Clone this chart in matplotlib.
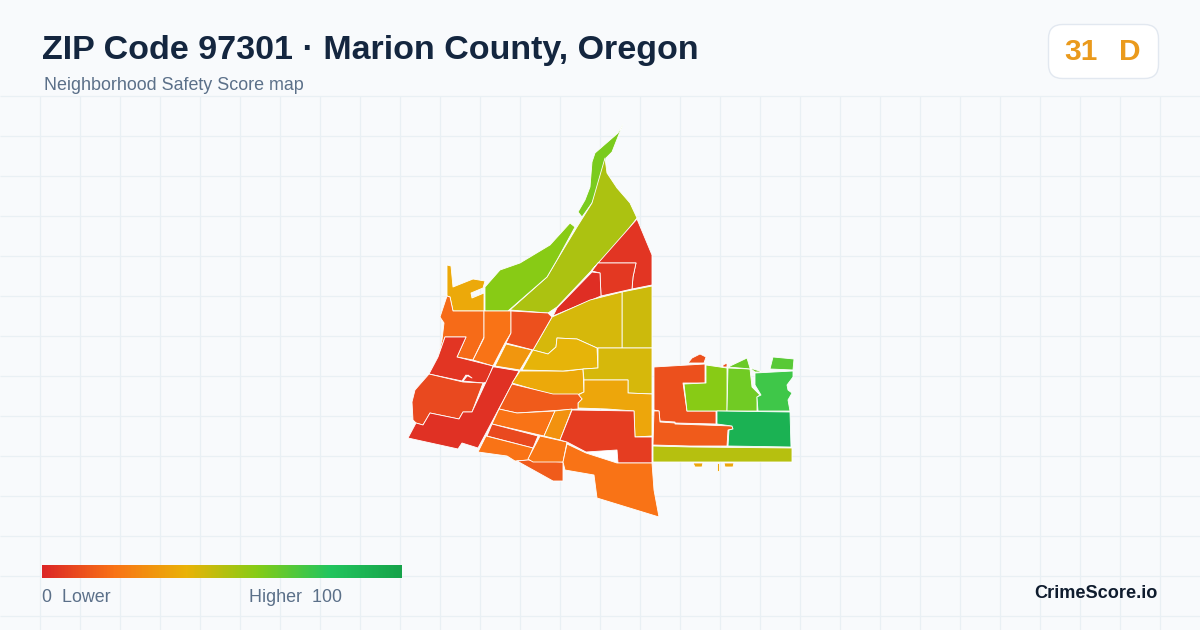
import matplotlib
matplotlib.use("Agg")
import matplotlib.pyplot as plt
import numpy as np
from matplotlib.collections import PolyCollection
from matplotlib.colors import LinearSegmentedColormap
from matplotlib.patches import FancyBboxPatch

plt.rcParams["font.family"] = ["Liberation Sans", "DejaVu Sans"]

scores = [62, 52, 59, 37, 4, 5, 2, 46, 44, 18, 20, 11, 31, 4, 9, 3, 37, 41, 44, 36,
          14, 20, 30, 9, 20, 14, 21, 6, 20, 11, 14, 11, 11, 59, 64, 65, 74, 69, 91, 50,
          36, 36, 36]

# outlines in picture coordinates
outlines = [
    [(623, 124), (618, 133), (595, 153), (592, 162), (590, 187), (585, 200), (578, 212), (582, 217), (592, 203), (605, 170), (606, 158), (612, 152)],
    [(605, 158), (607, 173), (617, 188), (630, 203), (637, 218), (620, 240), (592, 270), (557, 307), (548, 313), (510, 310), (547, 277), (557, 260), (577, 227), (592, 203)],
    [(485, 287), (500, 270), (520, 263), (550, 245), (570, 223), (575, 227), (557, 260), (547, 277), (508, 311), (485, 311)],
    [(447, 265), (451, 266), (453, 287), (473, 279), (485, 281), (483, 288), (471, 293), (472, 298), (484, 293), (484, 311), (453, 311), (450, 297), (447, 296)],
    [(637, 219), (652, 255), (652, 285), (632, 289), (633, 277), (636, 263), (598, 263), (592, 270)],
    [(598, 263), (636, 263), (633, 277), (632, 289), (601, 296), (600, 273), (592, 271)],
    [(592, 272), (600, 273), (601, 296), (553, 316), (557, 308)],
    [(622, 292), (652, 286), (652, 348), (622, 348)],
    [(552, 317), (590, 300), (622, 292), (622, 348), (597, 348), (577, 339), (557, 338), (556, 347), (548, 354), (533, 350)],
    [(447, 296), (450, 297), (453, 311), (484, 311), (484, 337), (473, 360), (457, 357), (466, 337), (445, 337), (438, 357), (442, 340), (444, 323), (440, 317), (444, 305)],
    [(484, 311), (511, 311), (511, 333), (505, 343), (493, 366), (473, 360), (484, 338)],
    [(511, 311), (548, 313), (552, 317), (533, 350), (506, 343), (511, 333)],
    [(506, 344), (532, 350), (520, 370), (495, 366)],
    [(445, 337), (466, 337), (457, 357), (493, 366), (487, 382), (483, 383), (463, 381), (468, 375), (472, 378), (466, 375), (462, 381), (429, 374), (438, 357)],
    [(429, 374), (463, 382), (483, 383), (472, 412), (463, 412), (459, 419), (430, 413), (423, 425), (416, 423), (413, 420), (412, 402), (415, 390), (422, 382)],
    [(495, 367), (519, 371), (478, 448), (462, 443), (458, 449), (408, 438), (416, 423), (423, 425), (430, 413), (459, 419), (463, 412), (472, 412), (493, 367)],
    [(520, 371), (567, 371), (583, 369), (584, 392), (577, 395), (553, 395), (512, 383)],
    [(533, 350), (548, 354), (556, 347), (557, 338), (577, 339), (597, 348), (598, 368), (583, 369), (563, 371), (522, 370)],
    [(598, 348), (652, 348), (652, 394), (628, 393), (628, 380), (584, 380), (583, 369), (598, 368)],
    [(584, 380), (628, 380), (628, 393), (652, 394), (652, 436), (635, 437), (634, 411), (607, 409), (578, 408), (578, 403), (582, 399), (578, 395), (584, 392)],
    [(512, 384), (553, 394), (578, 394), (582, 399), (578, 403), (578, 409), (517, 413), (499, 409)],
    [(499, 409), (517, 413), (555, 411), (544, 436), (492, 424)],
    [(555, 411), (572, 409), (560, 440), (544, 436)],
    [(492, 424), (538, 436), (533, 448), (487, 436)],
    [(486, 436), (533, 448), (528, 460), (515, 461), (507, 456), (478, 452)],
    [(517, 461), (528, 460), (563, 462), (563, 481), (553, 481)],
    [(540, 436), (567, 442), (563, 462), (533, 462), (528, 459)],
    [(572, 410), (634, 411), (635, 437), (652, 437), (652, 463), (618, 463), (617, 450), (586, 452), (567, 442), (560, 440)],
    [(567, 444), (586, 453), (617, 463), (652, 463), (654, 490), (659, 517), (597, 498), (594, 475), (565, 470), (563, 462)],
    [(654, 367), (705, 364), (705, 383), (683, 383), (687, 411), (716, 411), (716, 424), (675, 423), (675, 422), (660, 421), (659, 411), (654, 410)],
    [(654, 411), (659, 411), (660, 422), (675, 423), (675, 424), (732, 426), (733, 429), (728, 430), (727, 446), (690, 446), (653, 445)],
    [(688, 363), (692, 358), (700, 354), (706, 357), (704, 363)],
    [(723, 365), (727, 363), (727, 367), (723, 367)],
    [(706, 365), (727, 368), (727, 411), (687, 411), (684, 384), (706, 383)],
    [(728, 368), (750, 369), (752, 387), (760, 395), (757, 397), (757, 411), (727, 411)],
    [(728, 367), (747, 358), (750, 368), (763, 372), (755, 372), (751, 369)],
    [(755, 373), (793, 371), (793, 377), (787, 385), (788, 390), (792, 393), (788, 400), (790, 411), (758, 411), (757, 397), (761, 395), (755, 385)],
    [(770, 369), (773, 357), (794, 359), (793, 370)],
    [(717, 411), (790, 412), (791, 447), (728, 446), (729, 430), (733, 429), (732, 426), (717, 424)],
    [(653, 446), (690, 447), (792, 448), (792, 462), (653, 462)],
    [(693, 463), (703, 463), (702, 467), (695, 467)],
    [(717, 463), (719, 463), (719, 471), (717, 471)],
    [(724, 463), (734, 463), (733, 467), (725, 467)],
]
hole = [(586, 452), (617, 450), (618, 463), (607, 461)]

legend_stops = [0, 20, 40, 60, 80, 100]
legend_colors = ["#dc2626", "#f97316", "#eab308", "#84cc16", "#22c55e", "#16a34a"]
grid_x = list(range(40, 1200, 40))
grid_y = list(range(96, 630, 40))

cmap = LinearSegmentedColormap.from_list(
    "score", [(s / 100, c) for s, c in zip(legend_stops, legend_colors)])

fig = plt.figure(figsize=(12, 6.3), dpi=100, facecolor="#f8fafc")
ax = fig.add_axes([0, 0, 1, 1])
ax.set_xlim(0, 1200)
ax.set_ylim(630, 0)
ax.axis("off")

ax.vlines(grid_x, 96, 630, color="#e9f0f4", linewidth=0.9, zorder=1)
ax.hlines(grid_y, 0, 1200, color="#e9f0f4", linewidth=0.9, zorder=1)

ax.fill(*zip(*hole), color="white", zorder=2)
polys = PolyCollection(outlines, array=np.array(scores), cmap=cmap, clim=(0, 100),
                       edgecolor="white", linewidth=0.6, zorder=3)
ax.add_collection(polys)

ax.text(42, 50, "ZIP Code 97301 · Marion County, Oregon", fontsize=24.5, fontweight="bold",
        color="#14263f", va="center", ha="left")
ax.text(44, 85.5, "Neighborhood Safety Score map", fontsize=12.9, color="#5b7089",
        va="center", ha="left")

badge = FancyBboxPatch((1048.5, 24.5), 110, 54, boxstyle="round,pad=0,rounding_size=14",
                       facecolor="white", edgecolor="#e2e8f0", linewidth=1, zorder=4)
ax.add_patch(badge)
ax.text(1097.5, 52.5, "31", fontsize=21.5, fontweight="bold", color="#ea9a1c",
        ha="right", va="center", zorder=5)
ax.text(1119, 52.5, "D", fontsize=21.5, fontweight="bold", color="#ea9a1c",
        ha="left", va="center", zorder=5)

gradient = np.linspace(0, 1, 360).reshape(1, -1)
ax.imshow(gradient, cmap=cmap, extent=(42, 402, 578, 565), aspect="auto", zorder=3)
ax.set_xlim(0, 1200)
ax.set_ylim(630, 0)

ax.text(42, 598, "0  Lower", fontsize=12.9, color="#5b7089", va="center", ha="left")
ax.text(249, 598, "Higher  100", fontsize=12.9, color="#5b7089", va="center", ha="left")
ax.text(1158, 594, "CrimeScore.io", fontsize=13.1, fontweight="bold", color="#0f1c2e",
        va="center", ha="right")

fig.savefig("out.png", dpi=100, facecolor=fig.get_facecolor())
